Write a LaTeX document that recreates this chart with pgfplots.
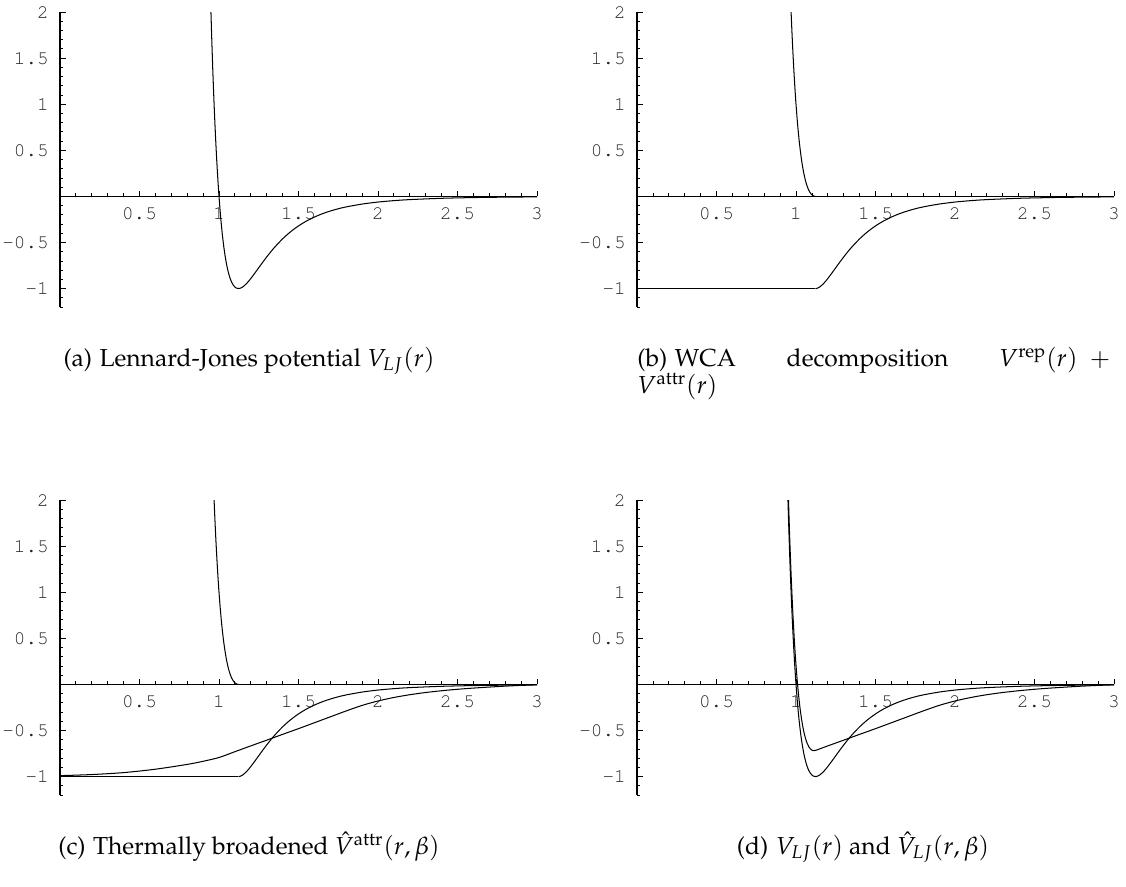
\documentclass[border=0pt]{standalone}
\usepackage[T1]{fontenc}
\usepackage{mathpazo}
\usepackage{courier}
\usepackage{pgfplots}
\pgfplotsset{compat=1.18}
\def\u{0.4878pt}
\pgfplotsset{mma/.style={
  scale only axis, width=232.68pt, height=143.90pt,
  xmin=0,xmax=3,ymin=-1.2,ymax=2,
  axis lines=middle, axis line style={-, line width=0.5pt},
  xtick={0.5,1,1.5,2,2.5,3}, xticklabels={0.5,1,1.5,2,2.5,3},
  ytick={-1,-0.5,0.5,1,1.5,2}, yticklabels={-1,-0.5,0.5,1,1.5,2},
  minor xtick={0.1,0.2,0.3,0.4,0.6,0.7,0.8,0.9,1.1,1.2,1.3,1.4,1.6,1.7,1.8,1.9,2.1,2.2,2.3,2.4,2.6,2.7,2.8,2.9},
  minor ytick={-1.2,-1.1,-0.9,-0.8,-0.7,-0.6,-0.4,-0.3,-0.2,-0.1,0.1,0.2,0.3,0.4,0.6,0.7,0.8,0.9,1.1,1.2,1.3,1.4,1.6,1.7,1.8,1.9},
  tick align=inside,
  major tick length=2.8pt, minor tick length=1.5pt,
  every tick/.style={black, line width=0.4pt},
  tick label style={font=\fontsize{9.4}{11}\selectfont\ttfamily, text=black!85},
  xticklabel style={anchor=north, yshift=-1.5pt},
  yticklabel style={anchor=east, xshift=-2pt},
}, curve/.style={black, line width=0.5pt, no marks}}
\begin{document}
\begin{tikzpicture}
\path[use as bounding box] (0,0) rectangle (1126*\u,-886*\u);
% ---------- (a) ----------
\begin{axis}[mma, at={(60*\u,-307*\u)}, anchor=south west]
\addplot[curve, smooth] coordinates {(0.9494,2) (0.95,1.96096) (0.955,1.67760) (0.96,1.41816) (0.965,1.18048) (0.97,0.96284) (0.975,0.76384) (0.98,0.58192) (0.985,0.41572) (0.99,0.26408) (0.995,0.12586) (1.00,0) (1.01,-0.21838) (1.02,-0.39791) (1.03,-0.54442) (1.04,-0.66289) (1.05,-0.75751) (1.06,-0.83196) (1.07,-0.88933) (1.08,-0.93222) (1.09,-0.96293) (1.10,-0.98337) (1.11,-0.99519) (1.1225,-1) (1.135,-0.99584) (1.15,-0.98168) (1.175,-0.94241) (1.2,-0.89096) (1.225,-0.83342) (1.25,-0.77370) (1.275,-0.71435) (1.3,-0.65702) (1.325,-0.60254) (1.35,-0.55157) (1.4,-0.46069) (1.45,-0.38407) (1.5,-0.32034) (1.55,-0.26764) (1.6,-0.22421) (1.65,-0.18840) (1.7,-0.15885) (1.75,-0.13441) (1.8,-0.11415) (1.9,-0.08322) (2.0,-0.06152) (2.1,-0.04610) (2.2,-0.03497) (2.4,-0.02082) (2.6,-0.01291) (2.8,-0.00828) (3.0,-0.00548)};
\end{axis}
% ---------- (b) ----------
\begin{axis}[mma, at={(637*\u,-307*\u)}, anchor=south west]
\addplot[curve, smooth] coordinates {(0.9691,2) (0.97,1.96284) (0.975,1.76384) (0.98,1.58192) (0.985,1.41572) (0.99,1.26408) (0.995,1.12586) (1.00,1) (1.01,0.78162) (1.02,0.60209) (1.03,0.45558) (1.04,0.33711) (1.05,0.24249) (1.06,0.16804) (1.07,0.11067) (1.08,0.06778) (1.09,0.03707) (1.10,0.01663) (1.11,0.00481) (1.1225,0)};
\addplot[curve] coordinates {(1.1225,0) (3,0)};
\addplot[curve] coordinates {(0,-1) (1.1225,-1)};
\addplot[curve, smooth] coordinates {(1.1225,-1) (1.135,-0.99584) (1.15,-0.98168) (1.175,-0.94241) (1.2,-0.89096) (1.225,-0.83342) (1.25,-0.77370) (1.275,-0.71435) (1.3,-0.65702) (1.325,-0.60254) (1.35,-0.55157) (1.4,-0.46069) (1.45,-0.38407) (1.5,-0.32034) (1.55,-0.26764) (1.6,-0.22421) (1.65,-0.18840) (1.7,-0.15885) (1.75,-0.13441) (1.8,-0.11415) (1.9,-0.08322) (2.0,-0.06152) (2.1,-0.04610) (2.2,-0.03497) (2.4,-0.02082) (2.6,-0.01291) (2.8,-0.00828) (3.0,-0.00548)};
\end{axis}
% ---------- (c) ----------
\begin{axis}[mma, at={(60*\u,-795*\u)}, anchor=south west]
\addplot[curve, smooth] coordinates {(0.9691,2) (0.97,1.96284) (0.975,1.76384) (0.98,1.58192) (0.985,1.41572) (0.99,1.26408) (0.995,1.12586) (1.00,1) (1.01,0.78162) (1.02,0.60209) (1.03,0.45558) (1.04,0.33711) (1.05,0.24249) (1.06,0.16804) (1.07,0.11067) (1.08,0.06778) (1.09,0.03707) (1.10,0.01663) (1.11,0.00481) (1.1225,0)};
\addplot[curve] coordinates {(1.1225,0) (3,0)};
\addplot[curve] coordinates {(0,-1) (1.1225,-1)};
\addplot[curve, smooth] coordinates {(1.1225,-1) (1.135,-0.99584) (1.15,-0.98168) (1.175,-0.94241) (1.2,-0.89096) (1.225,-0.83342) (1.25,-0.77370) (1.275,-0.71435) (1.3,-0.65702) (1.325,-0.60254) (1.35,-0.55157) (1.4,-0.46069) (1.45,-0.38407) (1.5,-0.32034) (1.55,-0.26764) (1.6,-0.22421) (1.65,-0.18840) (1.7,-0.15885) (1.75,-0.13441) (1.8,-0.11415) (1.9,-0.08322) (2.0,-0.06152) (2.1,-0.04610) (2.2,-0.03497) (2.4,-0.02082) (2.6,-0.01291) (2.8,-0.00828) (3.0,-0.00548)};
\addplot[curve, smooth] coordinates {(0,-0.99) (0.2,-0.978) (0.4,-0.957) (0.6,-0.92) (0.8,-0.868) (0.9,-0.834) (1.0,-0.793) (1.1,-0.73) (1.2,-0.667) (1.3,-0.605) (1.4,-0.542) (1.5,-0.48) (1.6,-0.416) (1.7,-0.352) (1.8,-0.288) (1.9,-0.228) (2.0,-0.18) (2.1,-0.142) (2.2,-0.112) (2.3,-0.088) (2.4,-0.069) (2.5,-0.053) (2.6,-0.04) (2.7,-0.029) (2.8,-0.019) (2.9,-0.011) (3.0,-0.005)};
\end{axis}
% ---------- (d) ----------
\begin{axis}[mma, at={(637*\u,-795*\u)}, anchor=south west]
\addplot[curve, smooth] coordinates {(0.9494,2) (0.95,1.96096) (0.955,1.67760) (0.96,1.41816) (0.965,1.18048) (0.97,0.96284) (0.975,0.76384) (0.98,0.58192) (0.985,0.41572) (0.99,0.26408) (0.995,0.12586) (1.00,0) (1.01,-0.21838) (1.02,-0.39791) (1.03,-0.54442) (1.04,-0.66289) (1.05,-0.75751) (1.06,-0.83196) (1.07,-0.88933) (1.08,-0.93222) (1.09,-0.96293) (1.10,-0.98337) (1.11,-0.99519) (1.1225,-1) (1.135,-0.99584) (1.15,-0.98168) (1.175,-0.94241) (1.2,-0.89096) (1.225,-0.83342) (1.25,-0.77370) (1.275,-0.71435) (1.3,-0.65702) (1.325,-0.60254) (1.35,-0.55157) (1.4,-0.46069) (1.45,-0.38407) (1.5,-0.32034) (1.55,-0.26764) (1.6,-0.22421) (1.65,-0.18840) (1.7,-0.15885) (1.75,-0.13441) (1.8,-0.11415) (1.9,-0.08322) (2.0,-0.06152) (2.1,-0.04610) (2.2,-0.03497) (2.4,-0.02082) (2.6,-0.01291) (2.8,-0.00828) (3.0,-0.00548)};
\addplot[curve, smooth] coordinates {(0.9528,2) (0.96,1.60816) (0.97,1.15684) (0.98,0.77992) (0.99,0.46608) (1.00,0.207) (1.01,-0.00538) (1.02,-0.17891) (1.03,-0.31842) (1.04,-0.43089) (1.05,-0.51951) (1.06,-0.58696) (1.07,-0.63833) (1.08,-0.67522) (1.09,-0.69893) (1.10,-0.71337) (1.11,-0.71819) (1.1225,-0.716) (1.15,-0.699) (1.2,-0.667) (1.3,-0.605) (1.4,-0.542) (1.5,-0.48) (1.6,-0.416) (1.7,-0.352) (1.8,-0.288) (1.9,-0.228) (2.0,-0.18) (2.1,-0.142) (2.2,-0.112) (2.3,-0.088) (2.4,-0.069) (2.5,-0.053) (2.6,-0.04) (2.7,-0.029) (2.8,-0.019) (2.9,-0.011) (3.0,-0.005)};
\end{axis}
% ---------- captions ----------
\begin{scope}[every node/.style={inner sep=0pt, font=\fontsize{12}{14.4}\selectfont}]
\node[anchor=base] at (249*\u,-366*\u) {(a)\hspace{0.3em}Lennard-Jones potential $V_{LJ}(r)$};
\node[anchor=base west] at (637*\u,-366*\u) {\makebox[230.7pt][s]{(b)\hspace{0.3em}WCA decomposition $V^{\mathrm{rep}}(r)$\hspace{0.5em}$+$}};
\node[anchor=base west] at (637*\u,-393*\u) {$V^{\mathrm{attr}}(r)$};
\node[anchor=base] at (249*\u,-854*\u) {(c)\hspace{0.3em}Thermally broadened $\hat{V}^{\mathrm{attr}}(r,\beta)$};
\node[anchor=base] at (863*\u,-854*\u) {(d)\hspace{0.3em}$V_{LJ}(r)$ and $\hat{V}_{LJ}(r,\beta)$};
\end{scope}
\end{tikzpicture}
\end{document}
